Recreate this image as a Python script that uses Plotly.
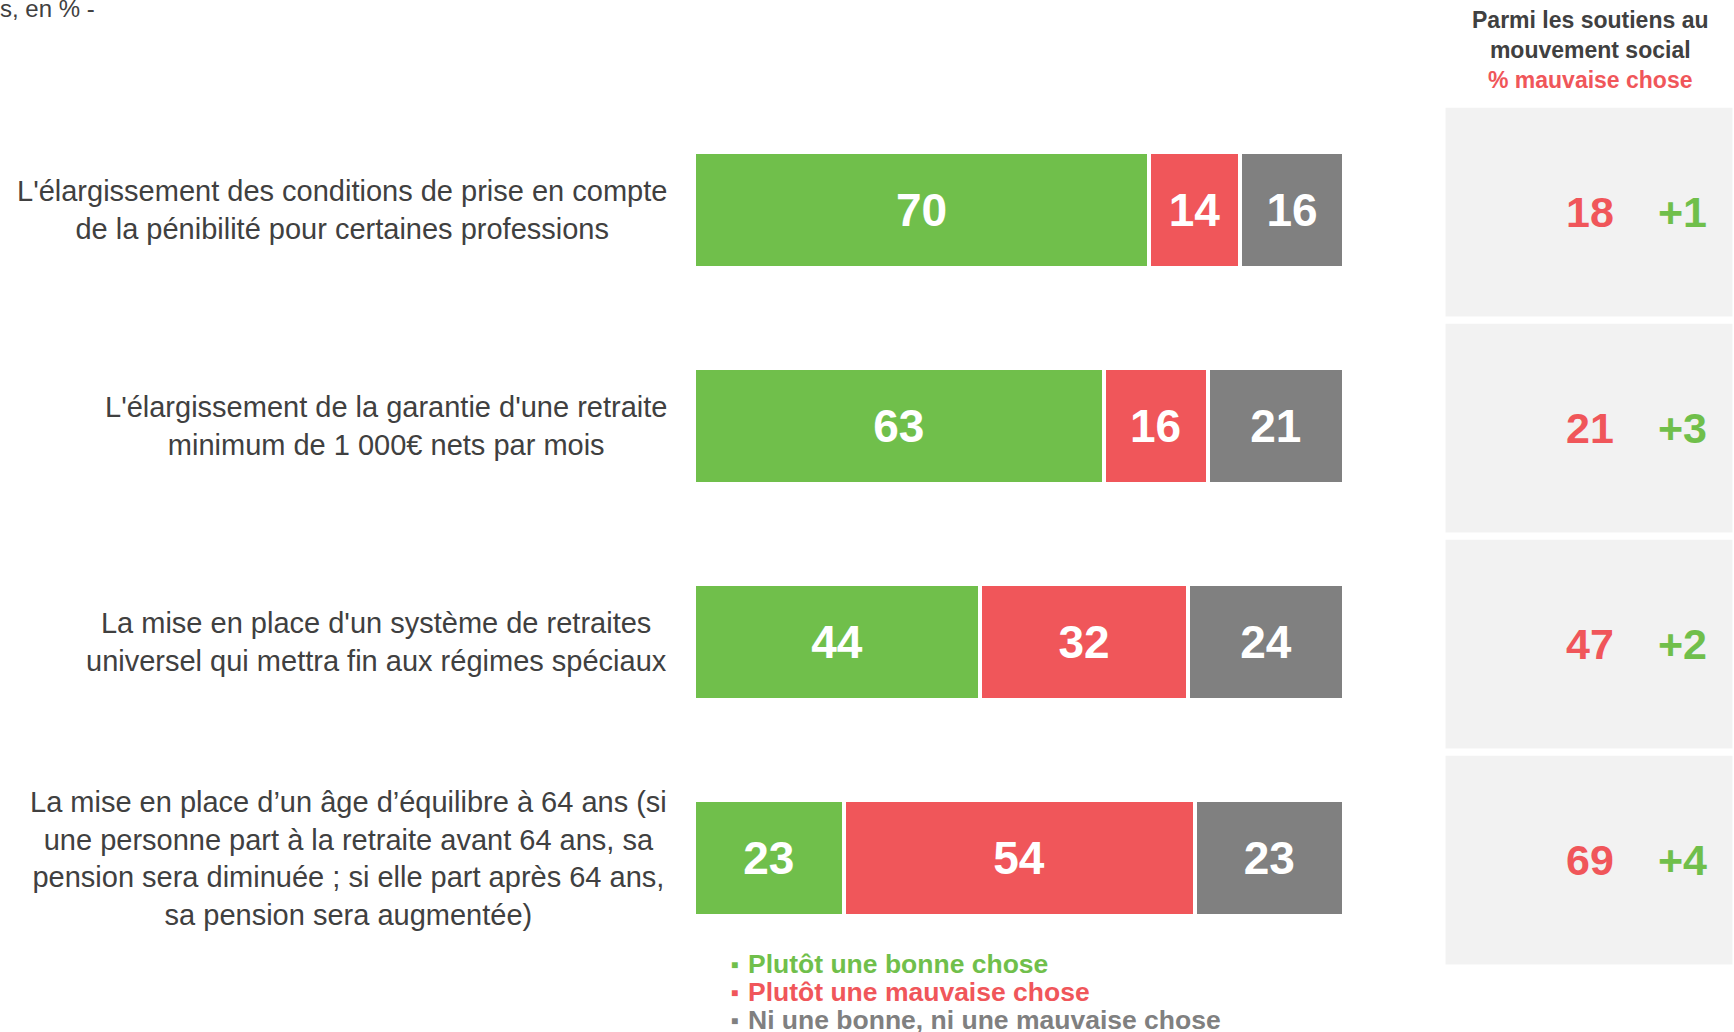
import plotly.graph_objects as go

# ---------------- data ----------------
categories = [
    "L'élargissement des conditions de prise en compte<br>de la pénibilité pour certaines professions",
    "L'élargissement de la garantie d'une retraite<br>minimum de 1 000€ nets par mois",
    "La mise en place d'un système de retraites<br>universel qui mettra fin aux régimes spéciaux",
    "La mise en place d’un âge d’équilibre à 64 ans (si<br>une personne part à la retraite avant 64 ans, sa<br>pension sera diminuée ; si elle part après 64 ans,<br>sa pension sera augmentée)",
]
series_names = ["Plutôt une bonne chose", "Plutôt une mauvaise chose", "Ni une bonne, ni une mauvaise chose"]
bonne = [70, 63, 44, 23]
mauvaise = [14, 16, 32, 54]
ni = [16, 21, 24, 23]
soutiens_mauvaise = [18, 21, 47, 69]
soutiens_delta = ["+1", "+3", "+2", "+4"]
header_lines = ["Parmi les soutiens au", "mouvement social", "% mauvaise chose"]
subtitle = "s, en % -"

# ---------------- style ----------------
W, H = 1734, 1032
GREEN, RED, GRAY = "#70BF4B", "#F0565A", "#808080"
DARK = "#404040"
FONT = "Liberation Sans, Arial, sans-serif"


def px(x):
    return x / W


def py(y):
    return 1 - y / H


fig = go.Figure()
for name, vals, col in zip(series_names, [bonne, mauvaise, ni], [GREEN, RED, GRAY]):
    fig.add_trace(go.Bar(
        name=name, y=categories, x=vals, orientation="h",
        marker=dict(color=col, line=dict(color="white", width=4)),
        width=0.54,
        text=[str(v) for v in vals], textposition="inside", insidetextanchor="middle",
        textfont=dict(family=FONT, size=46, color="white", weight="bold"),
        showlegend=False, hoverinfo="skip",
    ))

annotations = []
shapes = []

# category labels
for cat in categories:
    annotations.append(dict(
        xref="paper", yref="y", x=px(669), y=cat, xanchor="right", yanchor="middle",
        text=cat, align="center", showarrow=False,
        font=dict(family=FONT, size=29, color=DARK),
    ))

# right panel
for i, (v, d) in enumerate(zip(soutiens_mauvaise, soutiens_delta)):
    shapes.append(dict(
        type="rect", xref="paper", yref="y", x0=px(1444), x1=1.0, y0=i - 0.48, y1=i + 0.5,
        fillcolor="#F2F2F2", line=dict(color="white", width=3), layer="below",
    ))
    annotations.append(dict(
        xref="paper", yref="y", x=px(1590), y=categories[i], xanchor="center", yanchor="middle",
        text=f"<b>{v}</b>", showarrow=False, font=dict(family=FONT, size=43, color=RED),
        yshift=-2,
    ))
    annotations.append(dict(
        xref="paper", yref="y", x=px(1682), y=categories[i], xanchor="center", yanchor="middle",
        text=f"<b>{d}</b>", showarrow=False, font=dict(family=FONT, size=43, color=GREEN),
        yshift=-2,
    ))

# header
annotations.append(dict(
    xref="paper", yref="paper", x=px(1590), y=py(50), xanchor="center", yanchor="middle",
    text="<b>" + header_lines[0] + "<br>" + header_lines[1] + "<br>"
         + f"<span style='color:{RED}'>" + header_lines[2] + "</span></b>",
    showarrow=False, align="center", font=dict(family=FONT, size=23, color=DARK),
))

# subtitle (cut at top-left)
annotations.append(dict(
    xref="paper", yref="paper", x=px(97), y=py(8), xanchor="right", yanchor="middle",
    text=subtitle, showarrow=False, font=dict(family=FONT, size=24, color=DARK),
))

# legend
for k, (name, col) in enumerate(zip(series_names, [GREEN, RED, GRAY])):
    yy = 964 + 28 * k
    annotations.append(dict(
        xref="paper", yref="paper", x=px(734), y=py(yy + 1), xanchor="center", yanchor="middle",
        text="■", showarrow=False, font=dict(family=FONT, size=12, color=col),
    ))
    annotations.append(dict(
        xref="paper", yref="paper", x=px(746), y=py(yy), xanchor="left", yanchor="middle",
        text=f"<b>{name}</b>", showarrow=False, font=dict(family=FONT, size=26.5, color=col),
    ))

fig.update_layout(
    width=W, height=H, margin=dict(l=0, r=0, t=0, b=0),
    barmode="stack",
    paper_bgcolor="white", plot_bgcolor="rgba(0,0,0,0)",
    xaxis=dict(domain=[px(694), px(1344)], range=[0, 100], visible=False, fixedrange=True),
    yaxis=dict(domain=[py(966), py(102)], range=[3.5, -0.5], type="category",
               categoryorder="array", categoryarray=categories,
               showticklabels=False, showgrid=False, zeroline=False, showline=False, ticks=""),
    annotations=annotations, shapes=shapes,
    font=dict(family=FONT),
)

fig.write_html("out.html", config={"displayModeBar": False},
               post_script="document.body.style.margin='0px';document.body.style.overflow='hidden';")
